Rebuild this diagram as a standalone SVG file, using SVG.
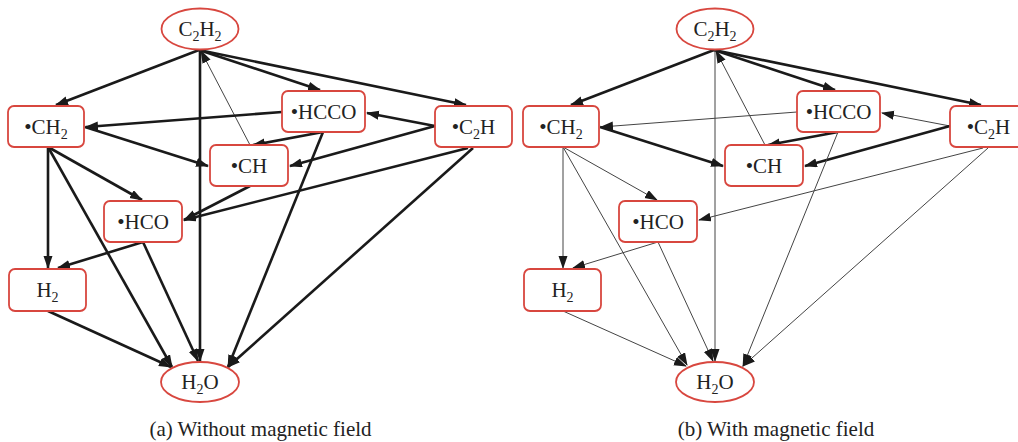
<svg xmlns="http://www.w3.org/2000/svg" width="1018" height="442" viewBox="0 0 1018 442">
<style>
.node{fill:#fff;stroke:#d8473f;stroke-width:1.8}
.lbl{font-size:21px;fill:#222;text-anchor:middle}
.sub{font-size:14px}
.cap{font-size:21px;fill:#222;text-anchor:middle}
.thick{stroke:#1a1a1a;stroke-width:2.6;fill:none;marker-end:url(#ah)}
.thin{stroke:#444;stroke-width:1;fill:none;marker-end:url(#ah)}
</style>
<defs>
<marker id="ah" markerUnits="userSpaceOnUse" markerWidth="14" markerHeight="10" refX="12" refY="4.5" orient="auto" viewBox="0 0 14 10">
<path d="M0,0 L13,4.5 L0,9 z" fill="#1a1a1a"/>
</marker>
</defs>
<rect width="1018" height="442" fill="#fff"/>

<g font-family="Liberation Serif, Times New Roman, Times, serif">
<g id="panel-a">
<g id="connectors-a">
<line class="thick" x1="199" y1="50" x2="56" y2="105"/>
<line class="thick" x1="199" y1="50" x2="320" y2="90"/>
<line class="thick" x1="199" y1="50" x2="466" y2="105"/>
<line class="thick" x1="200" y1="50" x2="200" y2="361"/>
<line class="thin" x1="250" y1="145" x2="201" y2="51"/>
<line class="thick" x1="282" y1="112" x2="86" y2="127"/>
<line class="thick" x1="435" y1="126" x2="367" y2="113"/>
<line class="thick" x1="323" y1="132" x2="253" y2="145"/>
<line class="thick" x1="85" y1="127" x2="208" y2="166"/>
<line class="thick" x1="435" y1="126" x2="290" y2="166"/>
<line class="thick" x1="468" y1="148" x2="184" y2="220"/>
<line class="thick" x1="250" y1="186" x2="184" y2="220"/>
<line class="thick" x1="48" y1="147" x2="142" y2="200"/>
<line class="thick" x1="48" y1="147" x2="48" y2="268"/>
<line class="thick" x1="48" y1="147" x2="172" y2="367"/>
<line class="thick" x1="143" y1="242" x2="58" y2="268"/>
<line class="thick" x1="143" y1="242" x2="198" y2="361"/>
<line class="thick" x1="323" y1="132" x2="228" y2="367"/>
<line class="thick" x1="473" y1="148" x2="228" y2="367"/>
<line class="thick" x1="48" y1="311" x2="171" y2="367"/>
</g>
<g id="a-C2H2"><ellipse class="node" cx="200" cy="29" rx="38.5" ry="20.5"/><text class="lbl" x="200" y="36">C<tspan class="sub" dy="5">2</tspan><tspan dy="-5">H</tspan><tspan class="sub" dy="5">2</tspan></text></g>
<g id="a-CH2"><rect class="node" x="8" y="106" width="76" height="41" rx="6"/><text class="lbl" x="46" y="134">•CH<tspan class="sub" dy="5">2</tspan></text></g>
<g id="a-HCCO"><rect class="node" x="282" y="91" width="83" height="41" rx="6"/><text class="lbl" x="323.5" y="119">•HCCO</text></g>
<g id="a-C2H"><rect class="node" x="435" y="106" width="77" height="41" rx="6"/><text class="lbl" x="473.5" y="134">•C<tspan class="sub" dy="5">2</tspan><tspan dy="-5">H</tspan></text></g>
<g id="a-CH"><rect class="node" x="210" y="145" width="78" height="41" rx="6"/><text class="lbl" x="249" y="173">•CH</text></g>
<g id="a-HCO"><rect class="node" x="104" y="201" width="78" height="41" rx="6"/><text class="lbl" x="143" y="229">•HCO</text></g>
<g id="a-H2"><rect class="node" x="9" y="269" width="77" height="42" rx="6"/><text class="lbl" x="47.5" y="297">H<tspan class="sub" dy="5">2</tspan></text></g>
<g id="a-H2O"><ellipse class="node" cx="200" cy="382" rx="39" ry="20"/><text class="lbl" x="200" y="389">H<tspan class="sub" dy="5">2</tspan><tspan dy="-5">O</tspan></text></g>
<text class="cap" x="260.5" y="436">(a) Without magnetic field</text>
</g>

<g id="panel-b" transform="translate(515,0)">
<g id="connectors-b">
<line class="thick" x1="199" y1="50" x2="56" y2="105"/>
<line class="thick" x1="199" y1="50" x2="320" y2="90"/>
<line class="thick" x1="199" y1="50" x2="466" y2="105"/>
<line class="thin" x1="200" y1="50" x2="200" y2="361"/>
<line class="thin" x1="250" y1="145" x2="201" y2="51"/>
<line class="thin" x1="282" y1="112" x2="86" y2="127"/>
<line class="thin" x1="435" y1="126" x2="367" y2="113"/>
<line class="thick" x1="323" y1="132" x2="253" y2="145"/>
<line class="thick" x1="85" y1="127" x2="208" y2="166"/>
<line class="thick" x1="435" y1="126" x2="290" y2="166"/>
<line class="thin" x1="468" y1="148" x2="184" y2="220"/>
<line class="thin" x1="48" y1="147" x2="142" y2="200"/>
<line class="thin" x1="48" y1="147" x2="48" y2="268"/>
<line class="thin" x1="48" y1="147" x2="172" y2="365"/>
<line class="thin" x1="143" y1="242" x2="58" y2="268"/>
<line class="thin" x1="143" y1="242" x2="198" y2="361"/>
<line class="thin" x1="323" y1="132" x2="228" y2="366"/>
<line class="thin" x1="473" y1="148" x2="228" y2="366"/>
<line class="thin" x1="48" y1="311" x2="171" y2="366"/>
</g>
<g id="b-C2H2"><ellipse class="node" cx="200" cy="29" rx="38.5" ry="20.5"/><text class="lbl" x="200" y="36">C<tspan class="sub" dy="5">2</tspan><tspan dy="-5">H</tspan><tspan class="sub" dy="5">2</tspan></text></g>
<g id="b-CH2"><rect class="node" x="8" y="106" width="76" height="41" rx="6"/><text class="lbl" x="46" y="134">•CH<tspan class="sub" dy="5">2</tspan></text></g>
<g id="b-HCCO"><rect class="node" x="282" y="91" width="83" height="41" rx="6"/><text class="lbl" x="323.5" y="119">•HCCO</text></g>
<g id="b-C2H"><rect class="node" x="435" y="106" width="77" height="41" rx="6"/><text class="lbl" x="473.5" y="134">•C<tspan class="sub" dy="5">2</tspan><tspan dy="-5">H</tspan></text></g>
<g id="b-CH"><rect class="node" x="210" y="145" width="78" height="41" rx="6"/><text class="lbl" x="249" y="173">•CH</text></g>
<g id="b-HCO"><rect class="node" x="104" y="201" width="78" height="41" rx="6"/><text class="lbl" x="143" y="229">•HCO</text></g>
<g id="b-H2"><rect class="node" x="9" y="269" width="77" height="42" rx="6"/><text class="lbl" x="47.5" y="297">H<tspan class="sub" dy="5">2</tspan></text></g>
<g id="b-H2O"><ellipse class="node" cx="200" cy="382" rx="39" ry="20"/><text class="lbl" x="200" y="389">H<tspan class="sub" dy="5">2</tspan><tspan dy="-5">O</tspan></text></g>
<text class="cap" x="261" y="436">(b) With magnetic field</text>
</g>
</g>
</svg>
